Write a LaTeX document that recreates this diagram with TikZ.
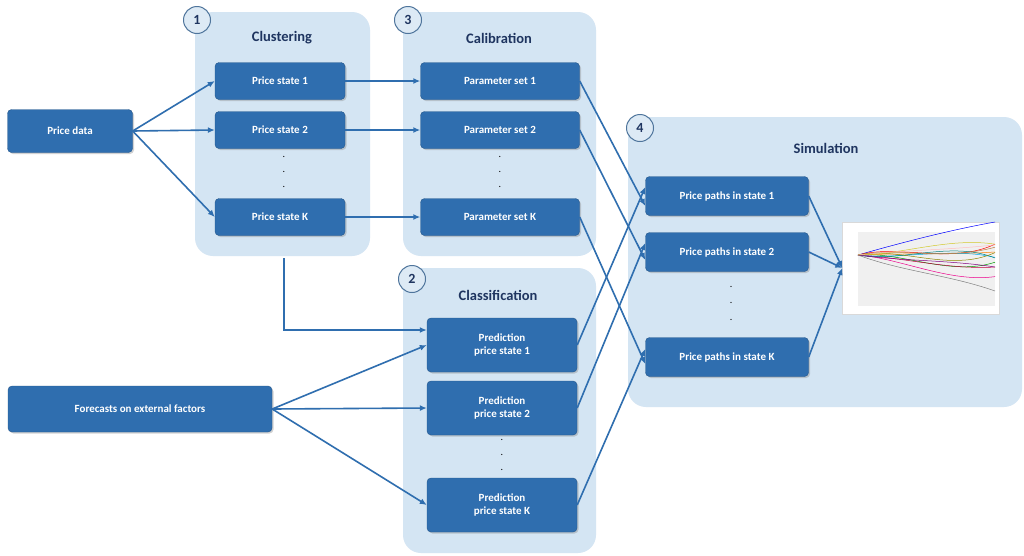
\documentclass[tikz,border=0pt]{standalone}
\usepackage{fontspec}
\setmainfont{Carlito}
\usetikzlibrary{arrows.meta,shadows}
\definecolor{panel}{HTML}{D4E5F3}
\definecolor{boxc}{HTML}{2F6EAF}
\definecolor{ttl}{HTML}{1F3560}
\definecolor{arr}{HTML}{2F6EAF}
\begin{document}
\begin{tikzpicture}[x=1pt,y=-1pt,
 panel/.style={fill=panel,draw=none,rounded corners=18pt},
 box/.style={fill=boxc,draw=boxc!80!black,rounded corners=4pt,text=white,font=\bfseries\fontsize{11}{13}\selectfont,align=center,drop shadow={opacity=0.35,shadow xshift=1.5pt,shadow yshift=-1.5pt},inner sep=0pt},
 ttl/.style={text=ttl,font=\bfseries\fontsize{14.5}{16}\selectfont},
 num/.style={circle,draw=boxc!60!gray,fill=panel!80!white,line width=1pt,minimum size=27pt,inner sep=0pt,text=ttl,font=\bfseries\fontsize{14}{16}\selectfont},
 ar/.style={draw=arr,line width=1.6pt,-{Latex[length=7pt,width=6pt]}},
 dot/.style={font=\fontsize{10}{10}\selectfont,text=black}]
\useasboundingbox (0,0) rectangle (1024,555);
\fill[white] (0,0) rectangle (1024,555);
% panels
\path[panel] (195,12) rectangle (370,256);
\path[panel] (403,12) rectangle (596,256);
\path[panel] (403,268) rectangle (596,553);
\path[panel] (628,117) rectangle (1022,407);
\node[num] (n1) at (197,20) {1};
\node[num] (n3) at (408,20) {3};
\node[num] (n2) at (412,279) {2};
\node[num] (n4) at (640,128) {4};
\node[ttl] (t1) at (282,38) {Clustering};
\node[ttl] (t3) at (499,38) {Calibration};
\node[ttl] (t2) at (498,295) {Classification};
\node[ttl] (t4) at (826,148) {Simulation};
% boxes
\node[box,minimum width=125pt,minimum height=43pt] (pd) at (70,131) {Price data};
\node[box,minimum width=264pt,minimum height=46pt] (fc) at (140,409) {Forecasts on external factors};
\foreach \n/\y/\t in {1/81/1,2/130/2,K/217/K}{
 \node[box,minimum width=130pt,minimum height=37pt] (ps\n) at (280,\y) {Price state \t};
 \node[box,minimum width=159pt,minimum height=37pt] (par\n) at (500,\y) {Parameter set \t};}
\foreach \n/\y in {1/345,2/408,K/505}{
 \node[box,minimum width=150pt,minimum height=54pt] (pr\n) at (502,\y) {Prediction\\price state \n};}
\foreach \n/\y in {1/196,2/252,K/357}{
 \node[box,minimum width=163pt,minimum height=39pt] (pp\n) at (727,\y) {Price paths in state \n};}
% dots
\foreach \y in {157,172,187}{\node[dot] at (284,\y) {.}; \node[dot] at (500,\y) {.};}
\foreach \y in {440,455,470}{\node[dot] at (502,\y) {.};}
\foreach \y in {287,303,320}{\node[dot] at (731,\y) {.};}
% chart image
\node[draw=gray!30,fill=white,minimum width=157pt,minimum height=92pt,inner sep=0pt] (img) at (921,268) {};
\begin{scope}
\fill[gray!12] (858,232) rectangle (995,306);
\foreach \c/\a/\b in {blue/-30/-25,red/-28/10,green!60!black/-10/22,orange/-5/0,purple/5/15,cyan/12/-8,gray/40/20,brown/-18/5,magenta/8/28,teal/20/-15,olive/-22/18,violet/15/5,yellow!80!black/0/-18,pink/-12/-5}{
 \draw[\c,line width=0.5pt] (858,255) .. controls (900,255+\a*0.4) and (950,255+\b) .. (995,255+0.6*\a+0.6*\b);}
\end{scope}
% arrows
\foreach \n in {1,2,K}{\draw[ar] (pd.east) -- (ps\n.west); \draw[ar] (ps\n.east) -- (par\n.west); \draw[ar] (fc.east) -- (pr\n.west);}
\coordinate (c1) at (284,258);
\coordinate (c2) at (284,330);
\draw[ar] (c1) -- (c2) -- (c2 -| pr1.west);
\draw[ar] (par1.east) -- ([yshift=-10pt]pp1.west);
\draw[ar] (par2.east) -- ([yshift=-8pt]pp2.west);
\draw[ar] (parK.east) -- ([yshift=-7pt]ppK.west);
\draw[ar] (pr1.east) -- ([yshift=9pt]pp1.west);
\draw[ar] (pr2.east) -- ([yshift=9pt]pp2.west);
\draw[ar] (prK.east) -- ([yshift=8pt]ppK.west);
\foreach \n in {1,2,K}{\draw[ar] (pp\n.east) -- (img.west);}
\end{tikzpicture}
\end{document}
